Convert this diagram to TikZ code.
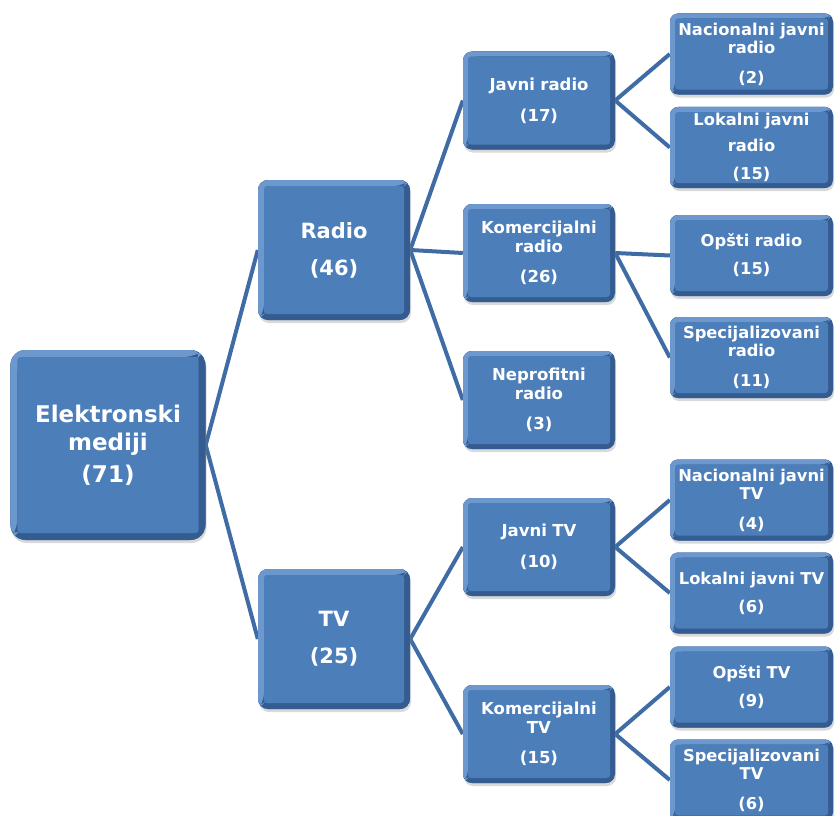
\documentclass[tikz,border=0pt]{standalone}
\usepackage{fontspec}
\setmainfont{DejaVu Sans}
\usepackage{xcolor}
\usepackage{tikz}
\usetikzlibrary{positioning, calc, backgrounds, shadows}
\definecolor{mdBlue}{RGB}{76, 126, 186}
\definecolor{mdDark}{RGB}{52, 92, 145}
\definecolor{mdLight}{RGB}{108, 152, 206}
\definecolor{mdLine}{RGB}{64, 108, 165}
\tikzset{
    base/.style={
        font=\bfseries,
        text=white,
        align=center,
        inner xsep=2bp,
        inner ysep=0bp
    },
    bevel/.style={
        path picture={
            \fill[mdDark] (path picture bounding box.south west) rectangle (path picture bounding box.north east);
            \fill[mdLight] (path picture bounding box.south west)
                -- (path picture bounding box.north west)
                -- (path picture bounding box.north east)
                -- ([xshift=-#1,yshift=-#1]path picture bounding box.north east)
                -- ([xshift=#1,yshift=-#1]path picture bounding box.north west)
                -- ([xshift=#1,yshift=#1]path picture bounding box.south west) -- cycle;
            \fill[mdBlue, rounded corners=3bp] ([xshift=#1,yshift=#1]path picture bounding box.south west)
                rectangle ([xshift=-#1,yshift=-#1]path picture bounding box.north east);
        }
    },
    box/.style={
        base,
        rectangle,
        fill=mdBlue,
        drop shadow={opacity=0.3, shadow xshift=1bp, shadow yshift=-3bp}
    },
    rootbox/.style={
        box, bevel=7bp, rounded corners=15bp,
        text width=191bp, minimum height=190bp,
        font=\bfseries\fontsize{23bp}{28bp}\selectfont
    },
    mainbox/.style={
        box, bevel=6bp, rounded corners=10bp,
        text width=148bp, minimum height=140bp,
        font=\bfseries\fontsize{21bp}{27bp}\selectfont
    },
    subbox/.style={
        box, bevel=5bp, rounded corners=9bp,
        text width=148bp, minimum height=98bp,
        font=\bfseries\fontsize{16.5bp}{19bp}\selectfont
    },
    leafbox/.style={
        box, bevel=5bp, rounded corners=8bp,
        text width=159bp, minimum height=81bp,
        font=\bfseries\fontsize{16.3bp}{18bp}\selectfont
    },
    link/.style={
        line width=4bp,
        color=mdLine
    }
}
\begin{document}
\begin{tikzpicture}[x=1bp, y=-1bp]
  \useasboundingbox (0,0) rectangle (835,816);

  % Boxes
  \node[rootbox] (root) at (108,445) {Elektronski\\mediji\\[4bp](71)};

  \node[mainbox] (radio) at (334,250) {Radio\\[10bp](46)};
  \node[mainbox] (tv) at (334,639) {TV\\[10bp](25)};

  \node[subbox] (jradio) at (539,100.5) {Javni radio\\[12bp](17)};
  \node[subbox] (kradio) at (539,253) {Komercijalni\\radio\\[11bp](26)};
  \node[subbox] (nradio) at (539,400) {Neprofitni\\radio\\[11bp](3)};
  \node[subbox] (jtv) at (539,547) {Javni TV\\[12bp](10)};
  \node[subbox] (ktv) at (539,734) {Komercijalni\\TV\\[11bp](15)};

  \node[leafbox] (nacradio) at (751.5,54) {Nacionalni javni\\radio\\[12bp](2)};
  \node[leafbox] (lokradio) at (751.5,147.5) {Lokalni javni\\[8bp]radio\\[10bp](15)};
  \node[leafbox] (opradio) at (751.5,255.5) {Opšti radio\\[10bp](15)};
  \node[leafbox] (spradio) at (751.5,357.5) {Specijalizovani\\radio\\[12bp](11)};
  \node[leafbox] (nactv) at (751.5,500) {Nacionalni javni\\TV\\[12bp](4)};
  \node[leafbox] (loktv) at (751.5,593) {Lokalni javni TV\\[10bp](6)};
  \node[leafbox] (optv) at (751.5,687) {Opšti TV\\[10bp](9)};
  \node[leafbox] (sptv) at (751.5,780) {Specijalizovani\\TV\\[12bp](6)};

  % Links
  \begin{scope}[on background layer]
    \draw[link] (root.east) -- (radio.west);
    \draw[link] (root.east) -- (tv.west);
    \draw[link] (radio.east) -- (jradio.west);
    \draw[link] (radio.east) -- (kradio.west);
    \draw[link] (radio.east) -- (nradio.west);
    \draw[link] (tv.east) -- (jtv.west);
    \draw[link] (tv.east) -- (ktv.west);
    \draw[link] (jradio.east) -- (nacradio.west);
    \draw[link] (jradio.east) -- (lokradio.west);
    \draw[link] (kradio.east) -- (opradio.west);
    \draw[link] (kradio.east) -- (spradio.west);
    \draw[link] (jtv.east) -- (nactv.west);
    \draw[link] (jtv.east) -- (loktv.west);
    \draw[link] (ktv.east) -- (optv.west);
    \draw[link] (ktv.east) -- (sptv.west);
  \end{scope}
\end{tikzpicture}
\end{document}
